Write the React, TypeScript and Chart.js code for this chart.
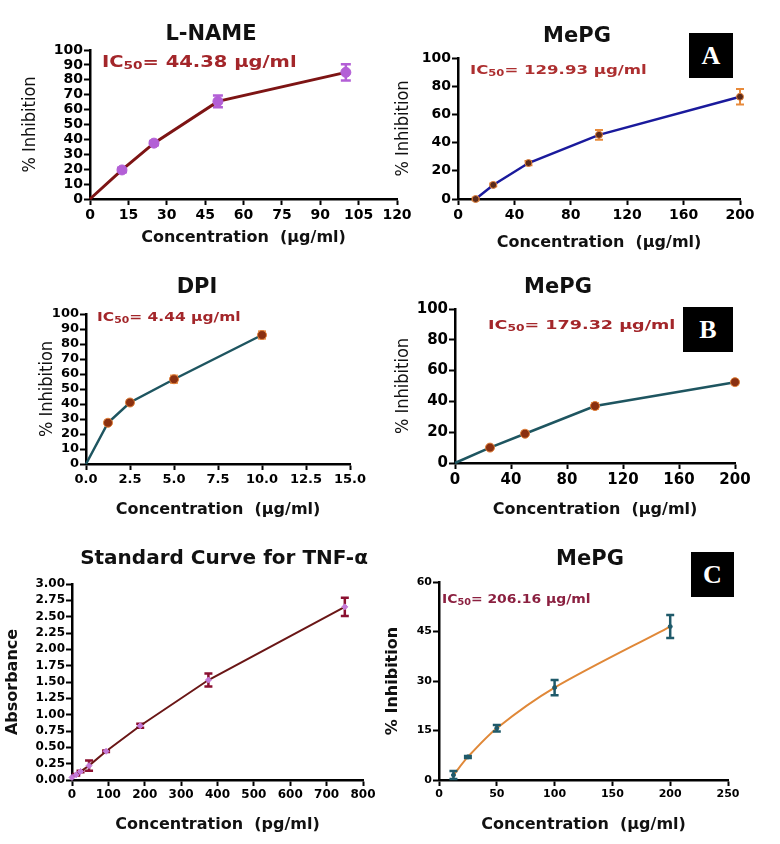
import React, { useEffect, useRef } from "react";
import { Chart, registerables } from "chart.js";
Chart.register(...registerables);

// ---------- data ----------
const lnameX = [0, 12.5, 25, 50, 100];
const lnameY = [0, 19.5, 37.5, 65.5, 85];
const lnameErr = [0, 1.5, 1.5, 4, 5.5];

const mepgAX = [12.5, 25, 50, 100, 200];
const mepgAY = [0, 10, 25.5, 45.5, 72.5];
const mepgAErr = [0.8, 1, 1.5, 3.5, 5.5];

const dpiX = [0, 1.25, 2.5, 5, 10];
const dpiY = [0, 27.5, 41, 56.5, 86];
const dpiErr = [0, 1.5, 1.5, 2.5, 2.5];

const mepgBX = [0, 25, 50, 100, 200];
const mepgBY = [0, 10, 19, 37, 52.5];
const mepgBErr = [0, 1, 1.5, 2, 1.5];

const tnfX = [0, 11.72, 23.44, 46.88, 93.75, 187.5, 375, 750];
const tnfY = [0.04, 0.08, 0.13, 0.22, 0.44, 0.83, 1.53, 2.65];
const tnfErr = [0, 0.01, 0.01, 0.08, 0.01, 0.03, 0.1, 0.14];

const mepgCX = [12.5, 25, 50, 100, 200];
const mepgCY = [1.5, 7, 15.7, 28, 46.5];
const mepgCErr = [1.2, 0.3, 1, 2.3, 3.5];

// tick labels
const ticksX1 = [0, 15, 30, 45, 60, 75, 90, 105, 120];
const ticksY10 = [0, 10, 20, 30, 40, 50, 60, 70, 80, 90, 100];
const ticksX200 = [0, 40, 80, 120, 160, 200];
const ticksY20 = [0, 20, 40, 60, 80, 100];
const ticksXDpi = [0, 2.5, 5, 7.5, 10, 12.5, 15];
const ticksXTnf = [0, 100, 200, 300, 400, 500, 600, 700, 800];
const ticksYTnf = [0, 0.25, 0.5, 0.75, 1, 1.25, 1.5, 1.75, 2, 2.25, 2.5, 2.75, 3];
const ticksXC = [0, 50, 100, 150, 200, 250];
const ticksYC = [0, 15, 30, 45, 60];

const xTitleUg = "Concentration  (μg/ml)";
const xTitlePg = "Concentration  (pg/ml)";
const yTitleInh = "% Inhibition";
const yTitleAbs = "Absorbance";

const BOLD = "'DejaVu Sans', 'Liberation Sans', sans-serif";
const COND = "'DejaVu Sans Condensed', 'Liberation Sans Narrow', 'DejaVu Sans', sans-serif";

type Spec = {
  box: number[];
  plot: number[];
  xs: number[];
  ys: number[];
  errs: number[];
  xTicks: number[];
  yTicks: number[];
  xDec: number;
  yDec: number;
  xTitle: string;
  xTitleY: number;
  yTitle: string;
  yTitleX: number;
  yFamily: string;
  yWeight: string;
  ySize: number;
  tickSize: number;
  lineColor: string;
  lineWidth: number;
  tension: number;
  pointColor: string;
  pointBorder: string;
  pointRadius: number;
  pointStyle: string;
  errColor: string;
  errWidth: number;
  cap: number;
  errOnTop: boolean;
};

const XT_SIZE = 16;

function Panel({ spec }: { spec: Spec }) {
  const ref = useRef<HTMLCanvasElement>(null);
  useEffect(() => {
    const [bl, bt, bw, bh] = spec.box;
    const [L, T, R, B] = spec.plot;
    const lhY = spec.ySize * 1.2;
    const lhX = XT_SIZE * 1.2;
    const padLeft = spec.yTitleX - bl - lhY / 2;
    const yW = L - bl - padLeft;
    const padTop = T - bt;
    const padRight = bl + bw - R;
    const padBottom = bt + bh - (spec.xTitleY + lhX / 2);
    const xH = bt + bh - padBottom - B;

    const drawErr = (chart: any) => {
      const ctx = chart.ctx;
      const sx = chart.scales.x;
      const sy = chart.scales.y;
      ctx.save();
      ctx.strokeStyle = spec.errColor;
      ctx.lineWidth = spec.errWidth;
      spec.xs.forEach((x, i) => {
        const e = spec.errs[i];
        if (!e) return;
        const px = sx.getPixelForValue(x);
        const top = sy.getPixelForValue(spec.ys[i] + e);
        const bot = sy.getPixelForValue(spec.ys[i] - e);
        ctx.beginPath();
        ctx.moveTo(px, top);
        ctx.lineTo(px, bot);
        ctx.moveTo(px - spec.cap, top);
        ctx.lineTo(px + spec.cap, top);
        ctx.moveTo(px - spec.cap, bot);
        ctx.lineTo(px + spec.cap, bot);
        ctx.stroke();
      });
      ctx.restore();
    };
    const errPlugin: any = { id: "errbars" };
    if (spec.errOnTop) errPlugin.afterDatasetsDraw = drawErr;
    else errPlugin.beforeDatasetsDraw = drawErr;

    const axisCommon = () => ({
      border: { display: true, color: "#000", width: 2.5 },
      grid: {
        display: true,
        drawOnChartArea: false,
        drawTicks: true,
        tickLength: 6,
        tickWidth: 2,
        tickColor: "#000",
        color: "#000",
      },
    });

    const chart = new Chart(ref.current!, {
      type: "scatter",
      data: {
        datasets: [
          {
            data: spec.xs.map((x, i) => ({ x, y: spec.ys[i] })),
            showLine: true,
            borderColor: spec.lineColor,
            borderWidth: spec.lineWidth,
            tension: spec.tension,
            pointBackgroundColor: spec.pointColor,
            pointBorderColor: spec.pointBorder,
            pointBorderWidth: 1,
            pointStyle: spec.pointStyle as any,
            pointRadius: (c: any) =>
              spec.xs[c.dataIndex] === 0 && spec.ys[c.dataIndex] === 0 ? 0 : spec.pointRadius,
            clip: false as any,
          },
        ],
      },
      options: {
        animation: false,
        responsive: false,
        devicePixelRatio: 1,
        layout: { padding: { left: padLeft, top: padTop, right: padRight, bottom: padBottom } },
        plugins: {
          legend: { display: false },
          tooltip: { enabled: false },
          title: { display: false },
        },
        scales: {
          x: {
            type: "linear",
            min: spec.xTicks[0],
            max: spec.xTicks[spec.xTicks.length - 1],
            afterBuildTicks: (s: any) => {
              s.ticks = spec.xTicks.map((v) => ({ value: v }));
            },
            afterFit: (s: any) => {
              s.height = xH;
            },
            ...axisCommon(),
            ticks: {
              color: "#000",
              font: { family: BOLD, weight: "bold", size: spec.tickSize },
              padding: 2,
              autoSkip: false,
              maxRotation: 0,
              callback: (v: any) => Number(v).toFixed(spec.xDec),
            },
            title: {
              display: true,
              text: spec.xTitle,
              color: "#111",
              font: { family: BOLD, weight: "bold", size: XT_SIZE },
              padding: 0,
            },
          },
          y: {
            type: "linear",
            min: spec.yTicks[0],
            max: spec.yTicks[spec.yTicks.length - 1],
            afterBuildTicks: (s: any) => {
              s.ticks = spec.yTicks.map((v) => ({ value: v }));
            },
            afterFit: (s: any) => {
              s.width = yW;
            },
            ...axisCommon(),
            ticks: {
              color: "#000",
              font: { family: BOLD, weight: "bold", size: spec.tickSize },
              padding: 1,
              autoSkip: false,
              callback: (v: any) => Number(v).toFixed(spec.yDec),
            },
            title: {
              display: true,
              text: spec.yTitle,
              color: "#111",
              font: { family: spec.yFamily, weight: spec.yWeight as any, size: spec.ySize },
              padding: 0,
            },
          },
        },
      } as any,
      plugins: [errPlugin],
    });
    return () => chart.destroy();
  }, []);
  const [bl, bt, bw, bh] = spec.box;
  return (
    <canvas
      ref={ref}
      width={bw}
      height={bh}
      style={{ position: "absolute", left: bl, top: bt, width: bw, height: bh }}
    />
  );
}

const inhBase = {
  yTitle: yTitleInh,
  yFamily: COND,
  yWeight: "normal",
  ySize: 18,
  xTitle: xTitleUg,
};

const specs: Spec[] = [
  {
    ...inhBase,
    box: [0, 0, 420, 265],
    plot: [90, 50, 397, 199],
    xs: lnameX, ys: lnameY, errs: lnameErr,
    xTicks: ticksX1, yTicks: ticksY10, xDec: 0, yDec: 0,
    xTitleY: 237.5, yTitleX: 30,
    tickSize: 14,
    lineColor: "#7d1414", lineWidth: 3, tension: 0,
    pointColor: "#b35fd6", pointBorder: "#b35fd6", pointRadius: 5, pointStyle: "circle",
    errColor: "#b35fd6", errWidth: 2.5, cap: 5, errOnTop: false,
  },
  {
    ...inhBase,
    box: [385, 0, 395, 265],
    plot: [458, 58, 740, 199],
    xs: mepgAX, ys: mepgAY, errs: mepgAErr,
    xTicks: ticksX200, yTicks: ticksY20, xDec: 0, yDec: 0,
    xTitleY: 243, yTitleX: 403,
    tickSize: 14,
    lineColor: "#1a1a9c", lineWidth: 2.5, tension: 0,
    pointColor: "#5a2a1a", pointBorder: "#e0803a", pointRadius: 3.5, pointStyle: "circle",
    errColor: "#e88a3a", errWidth: 2, cap: 4, errOnTop: false,
  },
  {
    ...inhBase,
    box: [0, 265, 400, 265],
    plot: [86, 314, 350, 464],
    xs: dpiX, ys: dpiY, errs: dpiErr,
    xTicks: ticksXDpi, yTicks: ticksY10, xDec: 1, yDec: 0,
    xTitleY: 510, yTitleX: 47,
    tickSize: 13,
    lineColor: "#1e5560", lineWidth: 2.5, tension: 0,
    pointColor: "#8a3010", pointBorder: "#e0803a", pointRadius: 4.5, pointStyle: "circle",
    errColor: "#f0a060", errWidth: 2, cap: 4, errOnTop: false,
  },
  {
    ...inhBase,
    box: [385, 265, 395, 265],
    plot: [455, 309, 735, 463],
    xs: mepgBX, ys: mepgBY, errs: mepgBErr,
    xTicks: ticksX200, yTicks: ticksY20, xDec: 0, yDec: 0,
    xTitleY: 510, yTitleX: 403,
    tickSize: 15,
    lineColor: "#1e5560", lineWidth: 2.5, tension: 0,
    pointColor: "#8a3010", pointBorder: "#e0803a", pointRadius: 4.5, pointStyle: "circle",
    errColor: "#f0a060", errWidth: 2, cap: 4, errOnTop: false,
  },
  {
    box: [0, 540, 400, 304],
    plot: [72, 584, 363, 780],
    xs: tnfX, ys: tnfY, errs: tnfErr,
    xTicks: ticksXTnf, yTicks: ticksYTnf, xDec: 0, yDec: 2,
    xTitle: xTitlePg, xTitleY: 825,
    yTitle: yTitleAbs, yTitleX: 13, yFamily: BOLD, yWeight: "bold", ySize: 16,
    tickSize: 12,
    lineColor: "#6a1616", lineWidth: 2, tension: 0,
    pointColor: "#c47ad8", pointBorder: "#c47ad8", pointRadius: 3, pointStyle: "rectRot",
    errColor: "#8b1030", errWidth: 2.5, cap: 4, errOnTop: false,
  },
  {
    box: [380, 540, 400, 304],
    plot: [439, 582, 728, 780],
    xs: mepgCX, ys: mepgCY, errs: mepgCErr,
    xTicks: ticksXC, yTicks: ticksYC, xDec: 0, yDec: 0,
    xTitle: xTitleUg, xTitleY: 825,
    yTitle: yTitleInh, yTitleX: 393, yFamily: BOLD, yWeight: "bold", ySize: 16,
    tickSize: 11,
    lineColor: "#e08838", lineWidth: 2, tension: 0.3,
    pointColor: "#1f5a6a", pointBorder: "#1f5a6a", pointRadius: 2, pointStyle: "circle",
    errColor: "#1f5a6a", errWidth: 2.5, cap: 4, errOnTop: true,
  },
];

const titles = [
  { text: "L-NAME", x: 211, y: 32.5, size: 21 },
  { text: "MePG", x: 577, y: 35, size: 21 },
  { text: "DPI", x: 197, y: 286, size: 21 },
  { text: "MePG", x: 558, y: 286, size: 21 },
  { text: "Standard Curve for TNF-α", x: 224, y: 557, size: 20 },
  { text: "MePG", x: 590, y: 557.5, size: 21 },
];

const ic50 = [
  { value: "44.38 μg/ml", x: 102, y: 62, size: 15, sx: 1.3, color: "#a3262a" },
  { value: "129.93 μg/ml", x: 470, y: 70, size: 12, sx: 1.38, color: "#ad2f30" },
  { value: "4.44 μg/ml", x: 97, y: 317, size: 12, sx: 1.29, color: "#a3262a" },
  { value: "179.32 μg/ml", x: 488, y: 324, size: 13, sx: 1.35, color: "#a3262a" },
  { value: "206.16 μg/ml", x: 442, y: 599, size: 12, sx: 1.16, color: "#8b2040" },
];

const letters = [
  { text: "A", x: 689, y: 33, w: 44, h: 45 },
  { text: "B", x: 683, y: 307, w: 50, h: 45 },
  { text: "C", x: 691, y: 552, w: 43, h: 45 },
];

export default function App() {
  return (
    <div
      style={{
        position: "absolute",
        left: 0,
        top: 0,
        width: 780,
        height: 844,
        background: "#fff",
        overflow: "hidden",
      }}
    >
      {specs.map((s, i) => (
        <Panel key={i} spec={s} />
      ))}
      {titles.map((t, i) => (
        <div
          key={"t" + i}
          style={{
            position: "absolute",
            left: t.x,
            top: t.y,
            transform: "translate(-50%, -50%)",
            fontFamily: BOLD,
            fontWeight: "bold",
            fontSize: t.size,
            color: "#111",
            whiteSpace: "nowrap",
            lineHeight: 1,
          }}
        >
          {t.text}
        </div>
      ))}
      {ic50.map((t, i) => (
        <div
          key={"ic" + i}
          style={{
            position: "absolute",
            left: t.x,
            top: t.y,
            transform: `translate(0, -50%) scaleX(${t.sx})`,
            transformOrigin: "left center",
            fontFamily: BOLD,
            fontWeight: "bold",
            fontSize: t.size,
            color: t.color,
            whiteSpace: "nowrap",
            lineHeight: 1,
          }}
        >
          IC
          <sub style={{ fontSize: "0.7em", verticalAlign: "-0.25em", lineHeight: 0 }}>50</sub>
          {"= " + t.value}
        </div>
      ))}
      {letters.map((b, i) => (
        <div
          key={"l" + i}
          style={{
            position: "absolute",
            left: b.x,
            top: b.y,
            width: b.w,
            height: b.h,
            background: "#000",
            color: "#fff",
            display: "flex",
            alignItems: "center",
            justifyContent: "center",
            fontFamily: "'Liberation Serif', 'DejaVu Serif', serif",
            fontWeight: "bold",
            fontSize: 26,
          }}
        >
          {b.text}
        </div>
      ))}
    </div>
  );
}
